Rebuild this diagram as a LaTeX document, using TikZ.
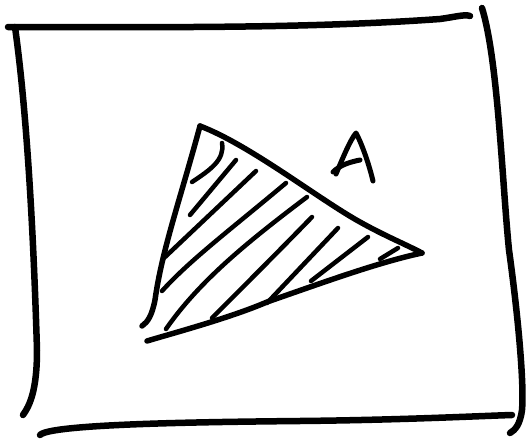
\documentclass[tikz,border=0pt]{standalone}
\begin{document}
\begin{tikzpicture}[x=1pt,y=-1pt,line cap=round,line join=round,
  frame/.style={line width=6.5pt},
  edge/.style={line width=5.5pt},
  hatch/.style={line width=4.5pt}]
\useasboundingbox (0,0) rectangle (531,439);
% frame
\draw[frame] (8,27) .. controls (150,27) and (300,29) .. (440,19) .. controls (455,17) and (465,14) .. (470,16);
\draw[frame] (15,27) .. controls (28,120) and (34,250) .. (37,350) .. controls (37,390) and (30,405) .. (23,415);
\draw[frame] (482,8) .. controls (498,60) and (502,180) .. (509,250) .. controls (520,330) and (524,390) .. (522,410) .. controls (520,425) and (515,430) .. (510,433);
\draw[frame] (40,435) .. controls (50,424) and (200,422) .. (300,421) .. controls (400,420) and (480,416) .. (512,415);
% triangle
\coordinate (t) at (200,126);
\coordinate (r) at (422,253);
\coordinate (l) at (142,326);
\coordinate (b) at (147,341);
\draw[edge] (t) .. controls (180,200) and (162,250) .. (155,300) .. controls (152,315) and (148,322) .. (l);
\draw[edge] (t) .. controls (250,145) and (320,200) .. (360,222) .. controls (385,236) and (405,244) .. (r);
\draw[edge] (b) .. controls (170,334) and (230,318) .. (267,302) .. controls (330,280) and (380,262) .. (r);
% hatching
\draw[hatch] (222,143) .. controls (225,160) and (210,170) .. (192,182);
\draw[hatch] (236,160) -- (190,215);
\draw[hatch] (256,171) -- (164,258);
\draw[hatch] (286,183) .. controls (230,230) and (190,260) .. (162,291);
\draw[hatch] (307,197) .. controls (250,240) and (200,280) .. (166,329);
\draw[hatch] (312,217) .. controls (280,250) and (240,290) .. (212,318);
\draw[hatch] (338,228) -- (267,303);
\draw[hatch] (368,237) -- (311,281);
\draw[hatch] (398,248) -- (380,259);
% letter A
\draw[edge,line width=5pt] (336,174) .. controls (342,160) and (350,140) .. (356,133) .. controls (360,140) and (368,160) .. (373,181);
\draw[edge,line width=5pt] (333,172) .. controls (340,165) and (350,162) .. (360,160);
\end{tikzpicture}
\end{document}
